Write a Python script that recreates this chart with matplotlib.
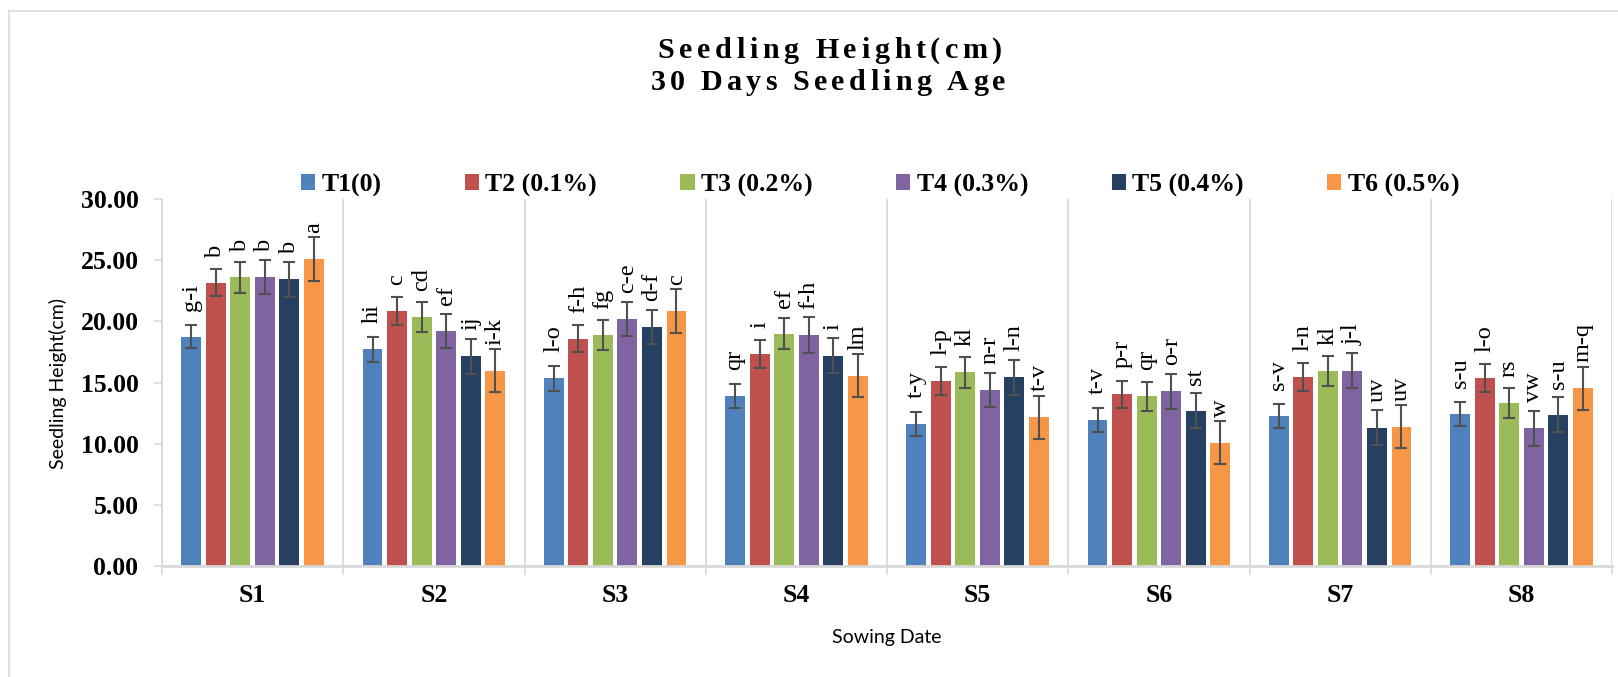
import numpy as np
import matplotlib
matplotlib.use("Agg")
import matplotlib.pyplot as plt
from matplotlib import font_manager, ft2font
from matplotlib.patches import Patch
from matplotlib.lines import Line2D

# seedling height (cm) at 30 days, per treatment across sowing dates S1..S8
sowing = ['S1', 'S2', 'S3', 'S4', 'S5', 'S6', 'S7', 'S8']
treatments = ['T1(0)', 'T2 (0.1%)', 'T3 (0.2%)', 'T4 (0.3%)', 'T5 (0.4%)', 'T6 (0.5%)']

t1 = [18.76, 17.70, 15.33, 13.90, 11.64, 11.92, 12.27, 12.46]
t2 = [23.15, 20.83, 18.57, 17.32, 15.10, 14.02, 15.46, 15.38]
t3 = [23.60, 20.37, 18.87, 19.00, 15.82, 13.88, 15.93, 13.31]
t4 = [23.65, 19.20, 20.20, 18.87, 14.40, 14.29, 15.95, 11.26]
t5 = [23.43, 17.13, 19.53, 17.20, 15.43, 12.71, 11.32, 12.38]
t6 = [25.09, 15.98, 20.83, 15.57, 12.16, 10.09, 11.40, 14.51]

e1 = [0.96, 1.00, 1.00, 1.00, 0.98, 0.97, 0.98, 0.98]
e2 = [1.10, 1.13, 1.10, 1.12, 1.15, 1.13, 1.12, 1.15]
e3 = [1.25, 1.23, 1.23, 1.25, 1.23, 1.20, 1.23, 1.23]
e4 = [1.40, 1.42, 1.42, 1.45, 1.40, 1.42, 1.43, 1.42]
e5 = [1.43, 1.40, 1.42, 1.42, 1.44, 1.43, 1.45, 1.42]
e6 = [1.78, 1.77, 1.78, 1.78, 1.77, 1.79, 1.77, 1.77]

l1 = ['g-i', 'hi', 'l-o', 'qr', 't-y', 't-v', 's-v', 's-u']
l2 = ['b', 'c', 'f-h', 'i', 'l-p', 'p-r', 'l-n', 'l-o']
l3 = ['b', 'cd', 'fg', 'ef', 'kl', 'qr', 'kl', 'rs']
l4 = ['b', 'ef', 'c-e', 'f-h', 'n-r', 'o-r', 'j-l', 'vw']
l5 = ['b', 'ij', 'd-f', 'i', 'l-n', 'st', 'uv', 's-u']
l6 = ['a', 'i-k', 'c', 'lm', 't-v', 'w', 'uv', 'm-q']

means = [t1, t2, t3, t4, t5, t6]
errs = [e1, e2, e3, e4, e5, e6]
letters = [l1, l2, l3, l4, l5, l6]
colors = ['#4F81BD', '#C0504D', '#9BBB59', '#8064A2', '#254061', '#F79646']

DPI = 100
W, H = 1618, 677
GRID = '#d9d9d9'
SERIF = 'Liberation Serif'

fig = plt.figure(figsize=(W / DPI, H / DPI), dpi=DPI)
ax = fig.add_axes([162 / W, 1 - 566 / H, (1612 - 162) / W, (566 - 199) / H])

step = 0.1354
width = 0.11
centers = np.arange(len(sowing)) + 0.5
for j in range(len(treatments)):
    x = centers + (j - 2.5) * step
    ax.bar(x, means[j], width, color=colors[j], zorder=2)
    ax.errorbar(x, means[j], yerr=errs[j], fmt='none', ecolor='#505050',
                elinewidth=1.5, capsize=4.5, capthick=1.5, zorder=3)
    for xi, yi, s in zip(x, means[j], letters[j]):
        ax.annotate(s, (xi, yi), xytext=(0, 26), textcoords='offset pixels',
                    rotation=90, ha='center', va='bottom',
                    fontsize=17.5, family=SERIF)

ax.set_xlim(0, len(sowing))
ax.set_ylim(0, 30)
ax.set_yticks(np.arange(0, 31, 5))
ax.set_yticklabels(['%.2f' % v for v in np.arange(0, 31, 5)],
                   fontsize=18.5, fontweight='bold', family=SERIF)
ax.set_xticks(np.arange(0, len(sowing) + 1))
ax.set_xticklabels([])
ax.set_xticks(centers, minor=True)
ax.set_xticklabels(sowing, minor=True, fontsize=18.5, fontweight='bold', family=SERIF)
ax.tick_params(axis='x', which='major', length=6.5, width=1.2, color=GRID)
ax.tick_params(axis='x', which='minor', length=0, pad=13)
ax.tick_params(axis='y', length=6, width=1.2, color=GRID, pad=11)
ax.grid(axis='x', which='major', color=GRID, lw=1.3, zorder=0)

for side in ['top', 'right']:
    ax.spines[side].set_visible(False)
ax.spines['left'].set_color(GRID)
ax.spines['left'].set_linewidth(1.3)
ax.spines['bottom'].set_color(GRID)
ax.spines['bottom'].set_linewidth(2)

ax.set_ylabel('Seedling Height(cm)', family='Lato', fontsize=14)
ax.set_xlabel('Sowing Date', family='Lato', fontsize=14)
ax.xaxis.set_label_coords(887 / W, 1 - 638 / H, transform=fig.transFigure)
ax.yaxis.set_label_coords(58 / W, 1 - 383 / H, transform=fig.transFigure)
ax.xaxis.label.set_va('center')
ax.yaxis.label.set_va('center')

handles = [Patch(facecolor=c, label=t) for c, t in zip(colors, treatments)]
legend_font = font_manager.FontProperties(family=SERIF, weight='bold', size=18.5)
fig.legend(handles=handles, loc='center', bbox_to_anchor=(880 / W, 1 - 185 / H),
           ncol=6, frameon=False, handlelength=0.55, handleheight=0.55,
           handletextpad=0.25, columnspacing=3.25, prop=legend_font)


def tracked_title(text, cx, baseline, size, spacing):
    # bold title with expanded character spacing, positions in pixels from top-left
    path = font_manager.findfont(font_manager.FontProperties(family=SERIF, weight='bold'))
    prop = font_manager.FontProperties(fname=path, size=size)
    font = ft2font.FT2Font(path)
    font.set_size(size, DPI)
    adv = [font.load_char(ord(c)).linearHoriAdvance / 65536 for c in text]
    total = sum(adv) + spacing * (len(text) - 1)
    x = cx - total / 2
    for c, a in zip(text, adv):
        fig.text(x / DPI, (H - baseline) / DPI, c, transform=fig.dpi_scale_trans,
                 ha='left', va='baseline', fontproperties=prop)
        x += a + spacing


tracked_title('Seedling Height(cm)', 830, 58, 21.7, 4.6)
tracked_title('30 Days Seedling Age', 828, 90, 21.7, 4.2)

# outer chart frame
fig.add_artist(Line2D([9 / W, 9 / W], [0, 1 - 11 / H], color=GRID, lw=1.2,
                      transform=fig.transFigure))
fig.add_artist(Line2D([9 / W, 1], [1 - 11 / H, 1 - 11 / H], color=GRID, lw=1.2,
                      transform=fig.transFigure))

fig.savefig('out.png', dpi=DPI)
